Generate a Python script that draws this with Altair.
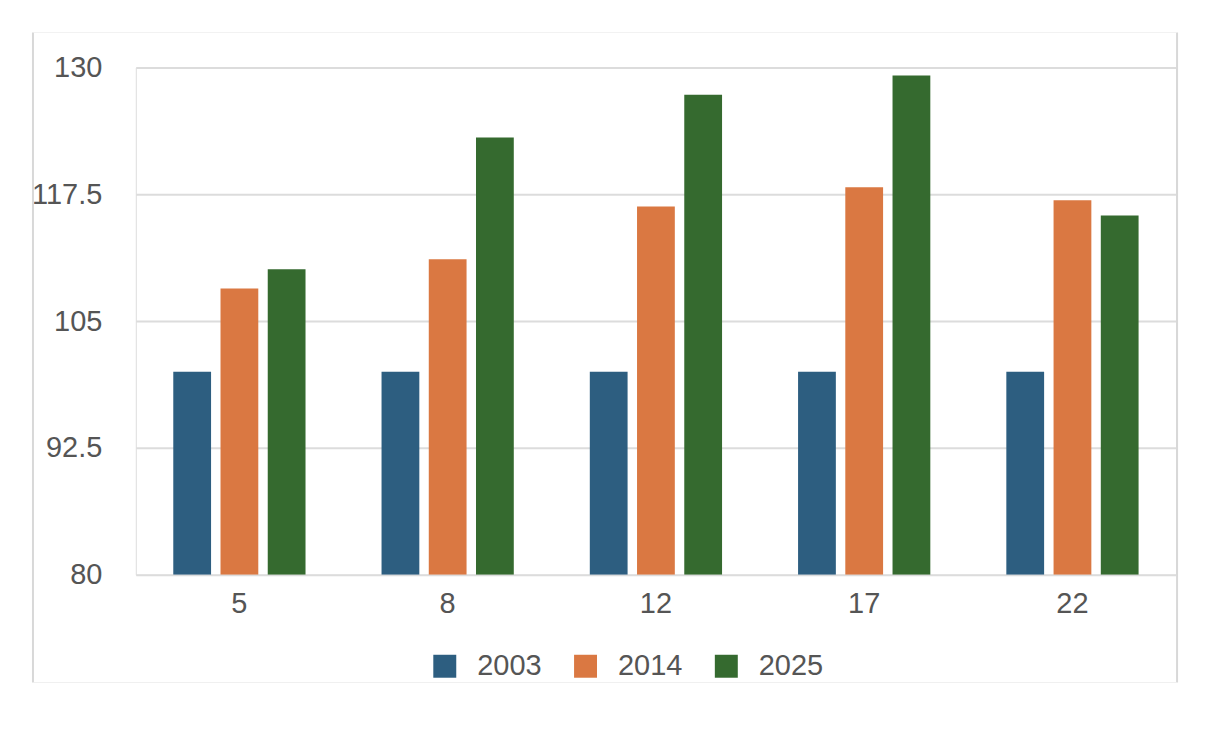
import altair as alt
import pandas as pd

categories = ["5", "8", "12", "17", "22"]
years = ["2003", "2014", "2025"]
values_2003 = [100, 100, 100, 100, 100]
values_2014 = [108.2, 111.1, 116.3, 118.2, 116.9]
values_2025 = [110.1, 123.1, 127.3, 129.2, 115.4]
y_ticks = [80, 92.5, 105, 117.5, 130]
colors = ["#2d5e80", "#da7842", "#356a2f"]

rows = []
for yr, vals in zip(years, [values_2003, values_2014, values_2025]):
    for c, v in zip(categories, vals):
        rows.append({"group": c, "year": yr, "value": v})
df = pd.DataFrame(rows)

FONT = "Liberation Sans"
TXT = "#555555"
FS = 29
W, H = 1042, 508

bars = alt.Chart(df).mark_bar(clip=True).encode(
    x=alt.X("group:N", sort=categories,
            scale=alt.Scale(paddingInner=0.365, paddingOuter=0.18),
            axis=alt.Axis(title=None, labelAngle=0, ticks=False, domain=False,
                          grid=False, labelPadding=15, labelFontSize=FS,
                          labelColor=TXT, labelFont=FONT)),
    xOffset=alt.XOffset("year:N", sort=years,
                        scale=alt.Scale(paddingInner=0.2, paddingOuter=0)),
    y=alt.Y("value:Q",
            scale=alt.Scale(domain=[80, 130], nice=False, zero=False),
            axis=alt.Axis(title=None, values=y_ticks, labelExpr="'' + datum.value",
                          ticks=False, tickSize=0, domain=False, labelPadding=34,
                          labelFontSize=FS, labelColor=TXT, labelFont=FONT,
                          gridColor="#dcdcdc", gridWidth=2)),
    y2=alt.datum(80),
    color=alt.Color("year:N", sort=years,
                    scale=alt.Scale(domain=years, range=colors),
                    legend=alt.Legend(title=None, orient="none", direction="horizontal",
                                      legendX=295, legendY=H + 77, padding=0,
                                      symbolType="square", symbolSize=529,
                                      symbolStrokeWidth=0, symbolOpacity=1,
                                      labelFontSize=FS, labelColor=TXT, labelFont=FONT,
                                      labelOffset=18, columnPadding=29)),
)

frame_df = pd.DataFrame({"k": [0]})
left = alt.Chart(frame_df).mark_rule(color="#d8d8d8", strokeWidth=2).encode(
    x=alt.value(-103), y=alt.value(-35), y2=alt.value(616))
right = alt.Chart(frame_df).mark_rule(color="#d8d8d8", strokeWidth=2).encode(
    x=alt.value(1043), y=alt.value(-35), y2=alt.value(616))
top = alt.Chart(frame_df).mark_rule(color="#f2f2f2", strokeWidth=1).encode(
    x=alt.value(-102), x2=alt.value(1042), y=alt.value(-35))
bottom = alt.Chart(frame_df).mark_rule(color="#f0f0f0", strokeWidth=1).encode(
    x=alt.value(-102), x2=alt.value(1042), y=alt.value(616))

chart = alt.layer(bars, left, right, top, bottom).properties(
    width=W, height=H,
    autosize=alt.AutoSizeParams(type="none"),
    padding={"left": 128, "top": 59, "right": 40, "bottom": 140},
).configure_view(stroke=None).configure(font=FONT)

chart.save("out.html", embed_options={"renderer": "svg", "actions": False})
